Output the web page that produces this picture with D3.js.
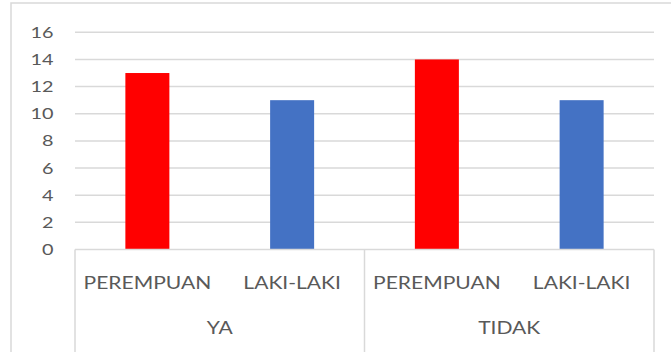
<!DOCTYPE html>
<html>
<head>
<meta charset="utf-8">
<script src="https://cdn.jsdelivr.net/npm/d3@7"></script>
<style>
  html, body { margin: 0; padding: 0; background: #fff; }
  svg { display: block; }
  text { font-family: Lato, "Open Sans", sans-serif; fill: #595959; }
</style>
</head>
<body>
<svg id="chart" width="671" height="352"></svg>
<script>
// Answer groups and the gender categories inside each group
const groups = ["YA", "TIDAK"];
const genders = ["PEREMPUAN", "LAKI-LAKI"];
// Counts per group, in gender order
const valuesYa = [13, 11];
const valuesTidak = [14, 11];
const yTicks = [0, 2, 4, 6, 8, 10, 12, 14, 16];
const genderColors = ["#FF0000", "#4472C4"];

const rows = [];
groups.forEach((g, gi) => {
  const vals = gi === 0 ? valuesYa : valuesTidak;
  genders.forEach((s, si) => rows.push({ group: g, gender: s, value: vals[si], color: genderColors[si] }));
});

const svg = d3.select("#chart");
const plot = { left: 75, right: 654, top: 32.3, bottom: 249.5 };
const textStretch = 1.17; // wide lettering

// Outer chart frame (top and left edges visible)
svg.append("rect")
  .attr("x", 11).attr("y", 3).attr("width", 700).attr("height", 400)
  .attr("fill", "none").attr("stroke", "#d9d9d9").attr("stroke-width", 1.5);

const y = d3.scaleLinear().domain([0, 16]).range([plot.bottom, plot.top]);
const x = d3.scaleBand()
  .domain(rows.map(d => d.group + "|" + d.gender))
  .range([plot.left, plot.right])
  .paddingInner(0.696).paddingOuter(0.348);
const xGroup = d3.scaleBand().domain(groups).range([plot.left, plot.right]);

// Horizontal gridlines
svg.append("g")
  .selectAll("line")
  .data(yTicks.filter(t => t > 0))
  .join("line")
  .attr("x1", plot.left).attr("x2", plot.right)
  .attr("y1", d => y(d)).attr("y2", d => y(d))
  .attr("stroke", "#d9d9d9").attr("stroke-width", 1.5);

// Y axis labels
const yAxis = svg.append("g")
  .attr("transform", `translate(53.5,0)`)
  .call(d3.axisLeft(y).tickValues(yTicks).tickSize(0).tickPadding(0));
yAxis.select(".domain").remove();
yAxis.selectAll("text")
  .attr("x", 0)
  .attr("font-size", 15.5)
  .attr("fill", "#595959")
  .attr("font-family", "Lato, 'Open Sans', sans-serif")
  .attr("transform", "scale(1.28,1)");

// Bars
svg.append("g")
  .selectAll("rect")
  .data(rows)
  .join("rect")
  .attr("x", d => x(d.group + "|" + d.gender))
  .attr("width", x.bandwidth())
  .attr("y", d => y(d.value))
  .attr("height", d => y(0) - y(d.value))
  .attr("fill", d => d.color);

// Multi-level category axis: baseline and group separators
const axisG = svg.append("g");
axisG.append("line")
  .attr("x1", plot.left).attr("x2", plot.right)
  .attr("y1", plot.bottom).attr("y2", plot.bottom)
  .attr("stroke", "#d9d9d9").attr("stroke-width", 1.5);
const seps = [plot.left].concat(groups.map(g => xGroup(g) + xGroup.bandwidth()));
axisG.selectAll("line.sep")
  .data(seps)
  .join("line")
  .attr("class", "sep")
  .attr("x1", d => d).attr("x2", d => d)
  .attr("y1", plot.bottom).attr("y2", 352)
  .attr("stroke", "#d9d9d9").attr("stroke-width", 1.5);

// Gender labels
axisG.selectAll("text.cat")
  .data(rows)
  .join("text")
  .attr("class", "cat")
  .attr("transform", d => `translate(${x(d.group + "|" + d.gender) + x.bandwidth() / 2},288.5) scale(${textStretch},1)`)
  .attr("text-anchor", "middle")
  .attr("font-size", 18)
  .text(d => d.gender);

// Group labels
axisG.selectAll("text.grp")
  .data(groups)
  .join("text")
  .attr("class", "grp")
  .attr("transform", d => `translate(${xGroup(d) + xGroup.bandwidth() / 2},334) scale(${textStretch},1)`)
  .attr("text-anchor", "middle")
  .attr("font-size", 18)
  .text(d => d);
</script>
</body>
</html>
